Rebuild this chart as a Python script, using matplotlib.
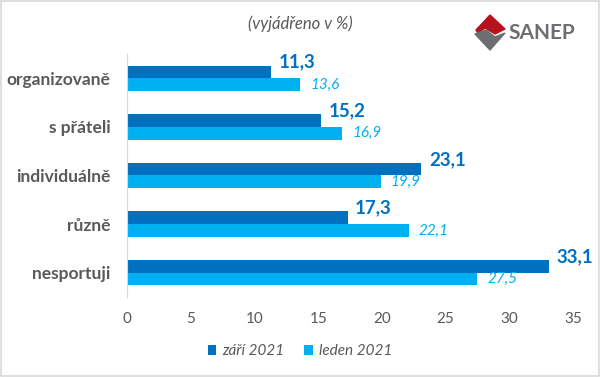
import numpy as np
import matplotlib.pyplot as plt
from matplotlib.patches import Polygon, Rectangle

plt.rcParams['font.family'] = ['Lato', 'DejaVu Sans']

categories = ['organizovaně', 's přáteli', 'individuálně', 'různě', 'nesportuji']
zari_2021 = [11.3, 15.2, 23.1, 17.3, 33.1]
leden_2021 = [13.6, 16.9, 19.9, 22.1, 27.5]

dark = '#0070C0'
light = '#00B0F0'
gray = '#595959'

fig = plt.figure(figsize=(6.0, 3.77), dpi=100)
ax = fig.add_axes([0.212, 0.212, 0.743, 0.645])

y = np.arange(len(categories))
h = 0.26
ax.barh(y - h / 2, zari_2021, height=h, color=dark, label='září 2021')
ax.barh(y + h / 2, leden_2021, height=h, color=light, label='leden 2021')

for i in range(len(categories)):
    ax.annotate(f'{zari_2021[i]:.1f}'.replace('.', ','), (zari_2021[i], y[i] - h / 2),
                xytext=(5.5, 7), textcoords='offset points', color=dark,
                fontsize=13.5, fontweight='bold', va='center', ha='left')
    ax.annotate(f'{leden_2021[i]:.1f}'.replace('.', ','), (leden_2021[i], y[i] + h / 2),
                xytext=(7, 0), textcoords='offset points', color=light,
                fontsize=11, style='italic', va='center', ha='left')

ax.set_xlim(0, 35)
ax.set_ylim(4.5, -0.5)
ax.set_xticks(range(0, 36, 5))
ax.set_yticks(y)
ax.set_yticklabels(categories, fontsize=12.5, fontweight='bold', color=gray)
ax.tick_params(axis='x', labelsize=11, labelcolor=gray, length=0, pad=11)
ax.tick_params(axis='y', length=0, pad=12)
for s in ['top', 'right', 'bottom']:
    ax.spines[s].set_visible(False)
ax.spines['left'].set_color('#D9D9D9')

fig.text(0.5, 0.937, '(vyjádřeno v %)', ha='center', va='center',
         fontsize=12, style='italic', color=gray)

leg = fig.legend(loc='center', bbox_to_anchor=(0.5, 0.068), ncol=2, frameon=False,
                 handlelength=0.55, handleheight=0.55, handletextpad=0.4, columnspacing=1.3,
                 prop={'size': 11, 'style': 'italic'})
for t in leg.get_texts():
    t.set_color(gray)

# logo
tr = fig.transFigure
def px(xp, yp):
    return (xp / 600, 1 - yp / 377)
fig.patches.append(Polygon([px(490, 15), px(505, 29), px(495, 34), px(485, 28), px(478, 33), px(476, 30)],
                           closed=True, color='#B5121B', transform=tr))
fig.patches.append(Polygon([px(475, 34), px(486, 30), px(495, 37), px(505, 33), px(490, 50)],
                           closed=True, color='#6D6E71', transform=tr))
fig.text(508 / 600, 1 - 33 / 377, 'SANEP', fontsize=15, fontweight='bold',
         color='#6D6E71', va='center', ha='left')

fig.patches.append(Rectangle((0.002, 0.003), 0.996, 0.994, fill=False,
                             edgecolor='#D9D9D9', linewidth=1.2, transform=tr))

fig.savefig('out.png', dpi=100)
